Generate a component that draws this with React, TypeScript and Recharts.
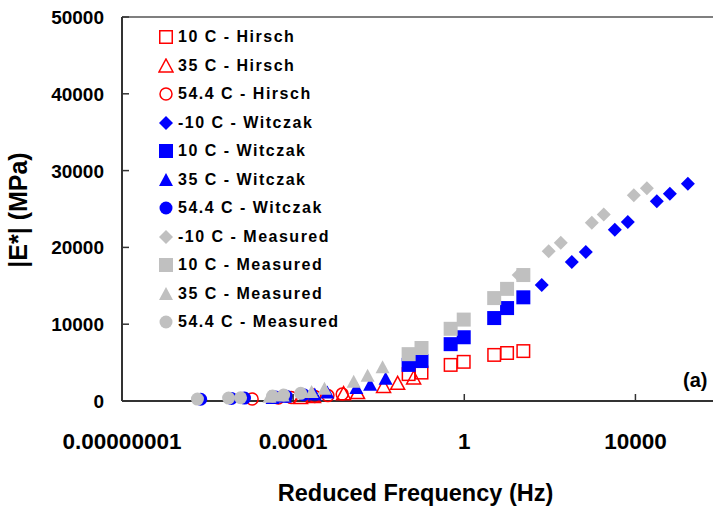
import React from "react";
import {
  ScatterChart,
  Scatter,
  XAxis,
  YAxis,
  ReferenceLine,
  Label,
} from "recharts";

// reduced frequency (Hz) and |E*| (MPa)
const hirsch10F = [0.05, 0.1, 0.48, 0.97, 5, 10, 24];
const hirsch10E = [3500, 3700, 4700, 5100, 6000, 6250, 6500];
const hirsch35F = [0.000149, 0.0003, 0.00151, 0.0032, 0.013, 0.0277, 0.0655];
const hirsch35E = [450, 600, 950, 1100, 1900, 2300, 3000];
const hirsch54F = [0.000011, 0.000045, 0.00009, 0.00032, 0.00065, 0.0014];
const hirsch54E = [250, 400, 450, 600, 700, 900];

const witczakM10F = [64.7, 326, 692, 3300, 6640, 31600, 63800, 168000];
const witczakM10E = [15100, 18100, 19400, 22300, 23300, 26000, 27000, 28300];
const witczak10F = [0.05, 0.1, 0.48, 0.97, 5, 10, 24];
const witczak10E = [4700, 5200, 7400, 8300, 10800, 12100, 13500];
const witczak35F = [0.000033, 0.000064, 0.00032, 0.00063, 0.003, 0.0063, 0.0145];
const witczak35E = [400, 550, 850, 1100, 1700, 2100, 2900];
const witczak54F = [0.00000069, 0.0000036, 0.0000073, 0.000039, 0.00007, 0.000175];
const witczak54E = [230, 330, 380, 520, 620, 820];

const measuredM10F = [18.7, 94, 180, 955, 1820, 9180, 18500];
const measuredM10E = [16400, 19500, 20600, 23200, 24300, 26800, 27700];
const measured10F = [0.05, 0.1, 0.48, 0.97, 5, 10, 24];
const measured10E = [6100, 6900, 9400, 10600, 13400, 14600, 16400];
const measured35F = [0.000028, 0.000057, 0.00027, 0.00054, 0.0026, 0.0055, 0.0123];
const measured35E = [550, 700, 1170, 1600, 2500, 3300, 4400];
const measured54F = [0.00000058, 0.0000031, 0.0000059, 0.000033, 0.00006, 0.00015];
const measured54E = [250, 380, 420, 650, 780, 1000];

const xTicks = [0.00000001, 0.0001, 1, 10000];
const xTickLabels = ["0.00000001", "0.0001", "1", "10000"];
const yTicks = [0, 10000, 20000, 30000, 40000, 50000];

const RED = "#ff0000";
const BLUE = "#0000ff";
const GRAY = "#c0c0c0";
const FONT = "'Liberation Sans', Arial, sans-serif";

type Kind = "square" | "triangle" | "circle" | "diamond";

const zip = (f: number[], e: number[]) => f.map((x, i) => ({ x, y: e[i] }));

const series = [
  { name: "10 C - Hirsch", kind: "square", color: RED, hollow: true, data: zip(hirsch10F, hirsch10E) },
  { name: "35 C - Hirsch", kind: "triangle", color: RED, hollow: true, data: zip(hirsch35F, hirsch35E) },
  { name: "54.4 C - Hirsch", kind: "circle", color: RED, hollow: true, data: zip(hirsch54F, hirsch54E) },
  { name: "-10 C - Witczak", kind: "diamond", color: BLUE, hollow: false, data: zip(witczakM10F, witczakM10E) },
  { name: "10 C - Witczak", kind: "square", color: BLUE, hollow: false, data: zip(witczak10F, witczak10E) },
  { name: "35 C - Witczak", kind: "triangle", color: BLUE, hollow: false, data: zip(witczak35F, witczak35E) },
  { name: "54.4 C - Witczak", kind: "circle", color: BLUE, hollow: false, data: zip(witczak54F, witczak54E) },
  { name: "-10 C - Measured", kind: "diamond", color: GRAY, hollow: false, data: zip(measuredM10F, measuredM10E) },
  { name: "10 C - Measured", kind: "square", color: GRAY, hollow: false, data: zip(measured10F, measured10E) },
  { name: "35 C - Measured", kind: "triangle", color: GRAY, hollow: false, data: zip(measured35F, measured35E) },
  { name: "54.4 C - Measured", kind: "circle", color: GRAY, hollow: false, data: zip(measured54F, measured54E) },
] as { name: string; kind: Kind; color: string; hollow: boolean; data: { x: number; y: number }[] }[];

const Marker = ({ cx, cy, kind, color, hollow, s = 14 }: any) => {
  const h = s / 2;
  const fill = hollow ? "none" : color;
  const stroke = hollow ? color : "none";
  const sw = hollow ? 1.5 : 0;
  if (kind === "square") {
    const a = hollow ? h - 0.75 : h;
    return <rect x={cx - a} y={cy - a} width={a * 2} height={a * 2} fill={fill} stroke={stroke} strokeWidth={sw} />;
  }
  if (kind === "circle") {
    return <circle cx={cx} cy={cy} r={hollow ? h - 1 : h - 0.5} fill={fill} stroke={stroke} strokeWidth={sw} />;
  }
  if (kind === "diamond") {
    return <polygon points={`${cx},${cy - h} ${cx + h},${cy} ${cx},${cy + h} ${cx - h},${cy}`} fill={fill} />;
  }
  return (
    <polygon
      points={`${cx},${cy - h} ${cx + h},${cy + h - 1} ${cx - h},${cy + h - 1}`}
      fill={fill}
      stroke={stroke}
      strokeWidth={sw}
      strokeLinejoin="miter"
    />
  );
};

const XTick = ({ x, y, payload }: any) => {
  const i = xTicks.indexOf(payload.value);
  return (
    <g>
      <line x1={x} y1={y} x2={x} y2={y - 7} stroke="#333" strokeWidth={1.5} />
      <text x={x} y={y + 48} textAnchor="middle" fontFamily={FONT} fontWeight="bold" fontSize={22.5} fill="#000">
        {i >= 0 ? xTickLabels[i] : payload.value}
      </text>
    </g>
  );
};

const YTick = ({ x, y, payload }: any) => (
  <g>
    <line x1={x} y1={y} x2={x + 7} y2={y} stroke="#333" strokeWidth={1.5} />
    <text x={x - 18} y={y + 7} textAnchor="end" fontFamily={FONT} fontWeight="bold" fontSize={19} fill="#000">
      {payload.value}
    </text>
  </g>
);

const LegendBox = () => (
  <div
    style={{
      position: "absolute",
      left: 158,
      top: 23,
      fontFamily: FONT,
      fontWeight: "bold",
      fontSize: 16,
      letterSpacing: 1.5,
      color: "#000",
    }}
  >
    {series.map((s) => (
      <div key={s.name} style={{ display: "flex", alignItems: "center", height: 28.5, whiteSpace: "nowrap" }}>
        <svg width={16} height={16} style={{ marginRight: 4 }}>
          <Marker cx={8} cy={8} kind={s.kind} color={s.color} hollow={s.hollow} s={14} />
        </svg>
        <span>{s.name}</span>
      </div>
    ))}
  </div>
);

export default function App() {
  return (
    <div style={{ position: "absolute", left: 0, top: 0, width: 713, height: 508, background: "#fff" }}>
      <ScatterChart width={713} height={508} margin={{ top: 17, right: 0, bottom: 0, left: 0 }}>
        <XAxis
          dataKey="x"
          type="number"
          scale="log"
          domain={[0.00000001, 650000]}
          allowDataOverflow
          ticks={xTicks}
          tick={<XTick />}
          tickSize={0}
          tickMargin={0}
          height={107}
          axisLine={{ stroke: "#333", strokeWidth: 2 }}
        >
          <Label
            content={({ viewBox }: any) => (
              <text
                x={viewBox.x + viewBox.width / 2 - 2}
                y={viewBox.y + 100}
                textAnchor="middle"
                fontFamily={FONT}
                fontWeight="bold"
                fontSize={23.5}
                fill="#000"
              >
                Reduced Frequency (Hz)
              </text>
            )}
          />
        </XAxis>
        <YAxis
          dataKey="y"
          type="number"
          domain={[0, 50000]}
          ticks={yTicks}
          tick={<YTick />}
          tickSize={0}
          tickMargin={0}
          width={122}
          axisLine={{ stroke: "#333", strokeWidth: 2 }}
        >
          <Label
            content={({ viewBox }: any) => {
              const cx = 27;
              const cy = viewBox.y + viewBox.height / 2 + 1;
              return (
                <text
                  x={cx}
                  y={cy}
                  transform={`rotate(-90 ${cx} ${cy})`}
                  textAnchor="middle"
                  fontFamily={FONT}
                  fontWeight="bold"
                  fontSize={25}
                  fill="#000"
                >
                  |E*| (MPa)
                </text>
              );
            }}
          />
        </YAxis>
        <ReferenceLine y={50000} stroke="#555" strokeWidth={1.5} />
        {series.map((s) => (
          <Scatter
            key={s.name}
            name={s.name}
            data={s.data}
            isAnimationActive={false}
            shape={(p: any) => <Marker cx={p.cx} cy={p.cy} kind={s.kind} color={s.color} hollow={s.hollow} />}
          />
        ))}
      </ScatterChart>
      <LegendBox />
      <div
        style={{
          position: "absolute",
          left: 683,
          top: 369,
          fontFamily: FONT,
          fontWeight: "bold",
          fontSize: 20,
          color: "#000",
        }}
      >
        (a)
      </div>
    </div>
  );
}
